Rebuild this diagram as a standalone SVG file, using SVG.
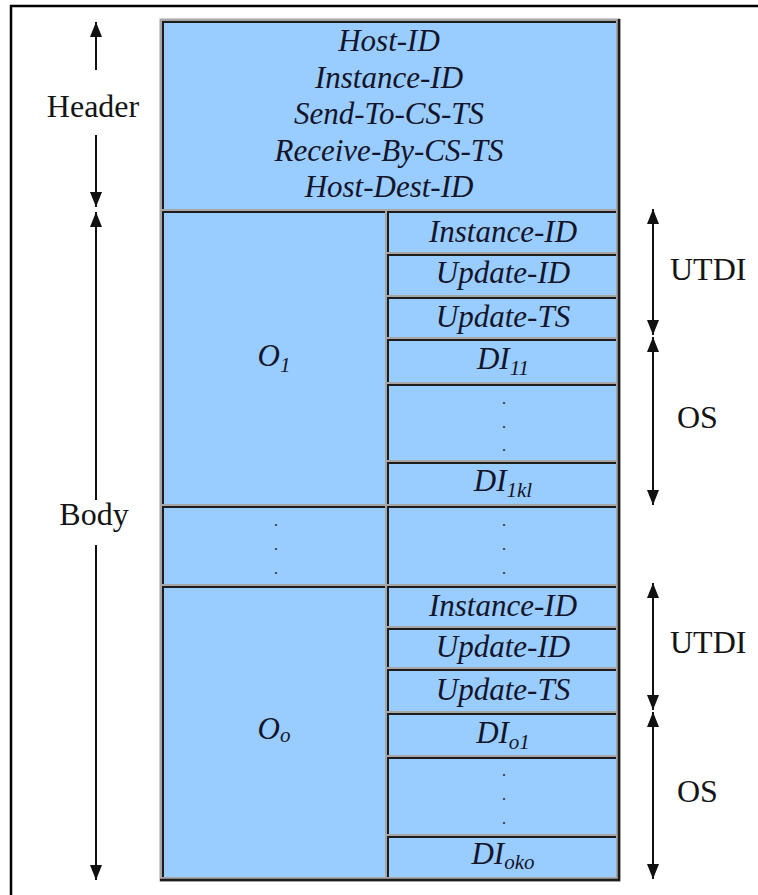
<svg xmlns="http://www.w3.org/2000/svg" width="758" height="895" viewBox="0 0 758 895">
  <style>
    .cell { fill: #99ccff; }
    .edge { fill: none; stroke: #1c1c1c; stroke-width: 2; }
    .fld { font-family: "Liberation Serif", "Times New Roman", serif; font-style: italic; font-size: 31px; fill: #14142a; text-anchor: middle; }
    .sub { font-size: 21px; }
    .lbl { font-family: "Liberation Serif", "Times New Roman", serif; font-size: 32px; fill: #141414; }
    .dot { font-family: "Liberation Serif", serif; font-size: 16px; fill: #1c1c3a; text-anchor: middle; }
    .arr { stroke: #111; stroke-width: 2; fill: none; }
  </style>
  <defs>
    <marker id="head" viewBox="0 0 15 12" refX="15" refY="6" markerWidth="15" markerHeight="12" markerUnits="userSpaceOnUse" orient="auto-start-reverse">
      <path d="M0,0 L15,6 L0,12 Z" fill="#111"/>
    </marker>
  </defs>

  <rect width="758" height="895" fill="#ffffff"/>
  <!-- page frame -->
  <path d="M11,895 V6 H758" fill="none" stroke="#000" stroke-width="2.5"/>

  <!-- table frame -->
  <rect x="159.5" y="18.5" width="461" height="863" fill="#a6a6a6"/>
  <path d="M619,19 V880 H160" fill="none" stroke="#1c1c1c" stroke-width="2.5"/>

  <!-- header block -->
  <g id="header">
    <rect class="cell" x="163" y="22" width="453" height="187"/>
    <path class="edge" d="M163,209 V22 H616"/>
    <text class="fld" x="389" y="51">Host-ID</text>
    <text class="fld" x="389" y="88">Instance-ID</text>
    <text class="fld" x="389" y="124">Send-To-CS-TS</text>
    <text class="fld" x="389" y="161">Receive-By-CS-TS</text>
    <text class="fld" x="389" y="197">Host-Dest-ID</text>
  </g>

  <!-- first object -->
  <g id="o1">
    <rect class="cell" x="163" y="212" width="222" height="292"/>
    <path class="edge" d="M163,504 V212 H385"/>
    <text class="fld" x="274" y="366">O<tspan class="sub" dy="6">1</tspan></text>
  </g>
  <g id="o1-instance-id">
    <rect class="cell" x="388" y="212" width="228" height="40"/>
    <path class="edge" d="M388,252 V212 H616"/>
    <text class="fld" x="503" y="242">Instance-ID</text>
  </g>
  <g id="o1-update-id">
    <rect class="cell" x="388" y="255" width="228" height="40"/>
    <path class="edge" d="M388,295 V255 H616"/>
    <text class="fld" x="503" y="283">Update-ID</text>
  </g>
  <g id="o1-update-ts">
    <rect class="cell" x="388" y="298" width="228" height="39"/>
    <path class="edge" d="M388,337 V298 H616"/>
    <text class="fld" x="503" y="327">Update-TS</text>
  </g>
  <g id="o1-di-first">
    <rect class="cell" x="388" y="340" width="228" height="42"/>
    <path class="edge" d="M388,382 V340 H616"/>
    <text class="fld" x="503" y="369">DI<tspan class="sub" dy="6">11</tspan></text>
  </g>
  <g id="o1-di-more">
    <rect class="cell" x="388" y="385" width="228" height="75"/>
    <path class="edge" d="M388,460 V385 H616"/>
    <text class="dot" x="504" y="404">.</text>
    <text class="dot" x="504" y="428">.</text>
    <text class="dot" x="504" y="451">.</text>
  </g>
  <g id="o1-di-last">
    <rect class="cell" x="388" y="463" width="228" height="41"/>
    <path class="edge" d="M388,504 V463 H616"/>
    <text class="fld" x="503" y="491">DI<tspan class="sub" dy="6">1kl</tspan></text>
  </g>

  <!-- elided objects -->
  <g id="more-left">
    <rect class="cell" x="163" y="507" width="222" height="77"/>
    <path class="edge" d="M163,584 V507 H385"/>
    <text class="dot" x="276" y="526">.</text>
    <text class="dot" x="276" y="550">.</text>
    <text class="dot" x="276" y="574">.</text>
  </g>
  <g id="more-right">
    <rect class="cell" x="388" y="507" width="228" height="77"/>
    <path class="edge" d="M388,584 V507 H616"/>
    <text class="dot" x="504" y="526">.</text>
    <text class="dot" x="504" y="550">.</text>
    <text class="dot" x="504" y="574">.</text>
  </g>

  <!-- last object -->
  <g id="oo">
    <rect class="cell" x="163" y="587" width="222" height="290"/>
    <path class="edge" d="M163,877 V587 H385"/>
    <text class="fld" x="274" y="739">O<tspan class="sub" dy="3">o</tspan></text>
  </g>
  <g id="oo-instance-id">
    <rect class="cell" x="388" y="587" width="228" height="39"/>
    <path class="edge" d="M388,626 V587 H616"/>
    <text class="fld" x="503" y="616">Instance-ID</text>
  </g>
  <g id="oo-update-id">
    <rect class="cell" x="388" y="629" width="228" height="38"/>
    <path class="edge" d="M388,667 V629 H616"/>
    <text class="fld" x="503" y="657">Update-ID</text>
  </g>
  <g id="oo-update-ts">
    <rect class="cell" x="388" y="670" width="228" height="41"/>
    <path class="edge" d="M388,711 V670 H616"/>
    <text class="fld" x="503" y="700">Update-TS</text>
  </g>
  <g id="oo-di-first">
    <rect class="cell" x="388" y="714" width="228" height="41"/>
    <path class="edge" d="M388,755 V714 H616"/>
    <text class="fld" x="503" y="743">DI<tspan class="sub" dy="6">o1</tspan></text>
  </g>
  <g id="oo-di-more">
    <rect class="cell" x="388" y="758" width="228" height="76"/>
    <path class="edge" d="M388,834 V758 H616"/>
    <text class="dot" x="504" y="776">.</text>
    <text class="dot" x="504" y="800">.</text>
    <text class="dot" x="504" y="824">.</text>
  </g>
  <g id="oo-di-last">
    <rect class="cell" x="388" y="837" width="228" height="40"/>
    <path class="edge" d="M388,877 V837 H616"/>
    <text class="fld" x="503" y="864">DI<tspan class="sub" dy="5">oko</tspan></text>
  </g>

  <!-- span arrows -->
  <g id="connectors">
    <line class="arr" x1="96" y1="70" x2="96" y2="22" marker-end="url(#head)"/>
    <line class="arr" x1="96" y1="135" x2="96" y2="207" marker-end="url(#head)"/>
    <line class="arr" x1="96" y1="500" x2="96" y2="212" marker-end="url(#head)"/>
    <line class="arr" x1="96" y1="545" x2="96" y2="880" marker-end="url(#head)"/>
    <line class="arr" x1="653" y1="209" x2="653" y2="335" marker-start="url(#head)" marker-end="url(#head)"/>
    <line class="arr" x1="653" y1="337" x2="653" y2="505" marker-start="url(#head)" marker-end="url(#head)"/>
    <line class="arr" x1="653" y1="583" x2="653" y2="710" marker-start="url(#head)" marker-end="url(#head)"/>
    <line class="arr" x1="653" y1="712" x2="653" y2="879" marker-start="url(#head)" marker-end="url(#head)"/>
  </g>

  <g id="span-labels">
    <text class="lbl" x="93" y="117" text-anchor="middle">Header</text>
    <text class="lbl" x="94" y="525" text-anchor="middle">Body</text>
    <text class="lbl" x="670" y="280">UTDI</text>
    <text class="lbl" x="677" y="428">OS</text>
    <text class="lbl" x="670" y="653">UTDI</text>
    <text class="lbl" x="677" y="802">OS</text>
  </g>
</svg>
